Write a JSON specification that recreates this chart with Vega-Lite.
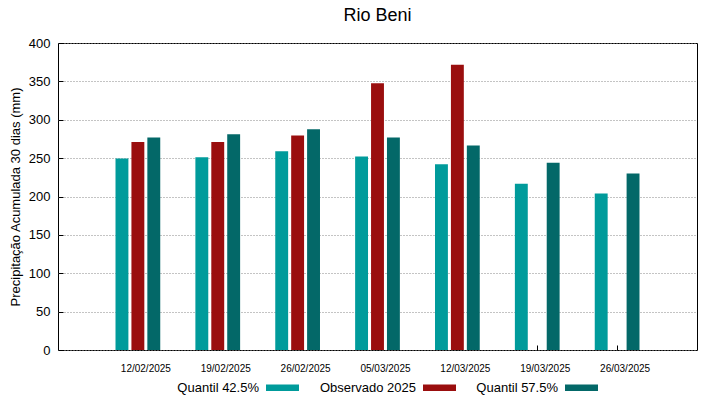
{
  "$schema": "https://vega.github.io/schema/vega-lite/v6.json",
  "autosize": {"type": "none"},
  "padding": {"left": 58, "top": 43, "right": 22, "bottom": 49},
  "width": 639,
  "height": 307,
  "title": {"text": "Rio Beni", "fontSize": 18, "font": "Liberation Sans", "fontWeight": "normal", "color": "#000", "offset": 12, "anchor": "middle"},
  "data": {"values": [
    {"date": "12/02/2025", "serie": "Quantil 42.5%", "valor": 249.5},
    {"date": "12/02/2025", "serie": "Observado 2025", "valor": 271},
    {"date": "12/02/2025", "serie": "Quantil 57.5%", "valor": 277},
    {"date": "19/02/2025", "serie": "Quantil 42.5%", "valor": 251},
    {"date": "19/02/2025", "serie": "Observado 2025", "valor": 271},
    {"date": "19/02/2025", "serie": "Quantil 57.5%", "valor": 281},
    {"date": "26/02/2025", "serie": "Quantil 42.5%", "valor": 259},
    {"date": "26/02/2025", "serie": "Observado 2025", "valor": 279.5},
    {"date": "26/02/2025", "serie": "Quantil 57.5%", "valor": 287.5},
    {"date": "05/03/2025", "serie": "Quantil 42.5%", "valor": 252},
    {"date": "05/03/2025", "serie": "Observado 2025", "valor": 347.5},
    {"date": "05/03/2025", "serie": "Quantil 57.5%", "valor": 277},
    {"date": "12/03/2025", "serie": "Quantil 42.5%", "valor": 242},
    {"date": "12/03/2025", "serie": "Observado 2025", "valor": 371.5},
    {"date": "12/03/2025", "serie": "Quantil 57.5%", "valor": 266.5},
    {"date": "19/03/2025", "serie": "Quantil 42.5%", "valor": 216.5},
    {"date": "19/03/2025", "serie": "Quantil 57.5%", "valor": 244},
    {"date": "26/03/2025", "serie": "Quantil 42.5%", "valor": 204},
    {"date": "26/03/2025", "serie": "Quantil 57.5%", "valor": 230}
  ]},
  "mark": {"type": "bar"},
  "encoding": {
    "x": {
      "field": "date", "type": "nominal",
      "sort": ["12/02/2025", "19/02/2025", "26/02/2025", "05/03/2025", "12/03/2025", "19/03/2025", "26/03/2025"],
      "scale": {"paddingInner": 0.4, "paddingOuter": 0.7},
      "axis": {"title": null, "labelAngle": 0, "labelFontSize": 10, "labelFont": "Liberation Sans", "labelColor": "#000", "grid": false, "domain": false, "tickSize": -5, "tickColor": "#000", "labelPadding": 18, "labelOffset": 8}
    },
    "y": {
      "field": "valor", "type": "quantitative",
      "scale": {"domain": [0, 400], "nice": false},
      "axis": {"title": "Precipitação Acumulada 30 dias (mm)", "titleFontSize": 13, "titleFont": "Liberation Sans", "titleFontWeight": "normal", "titleColor": "#000",
        "values": [0, 50, 100, 150, 200, 250, 300, 350, 400],
        "labelFontSize": 13, "labelFont": "Liberation Sans", "labelColor": "#000", "labelPadding": 13,
        "grid": true, "gridDash": [1, 2], "gridColor": "#888888", "domain": false, "tickSize": -5, "tickColor": "#000", "titlePadding": 6}
    },
    "xOffset": {"field": "serie", "type": "nominal", "scale": {"domain": ["Quantil 42.5%", "Observado 2025", "Quantil 57.5%"], "paddingInner": 0.19, "paddingOuter": 0.1}},
    "color": {
      "field": "serie", "type": "nominal",
      "scale": {"domain": ["Quantil 42.5%", "Observado 2025", "Quantil 57.5%"], "range": ["#009b9b", "#9a0e0e", "#036868"]},
      "legend": {"title": null, "orient": "none", "direction": "horizontal", "legendX": 208, "legendY": 328,
        "symbolType": "M-1,-0.2H1V0.2H-1Z", "symbolSize": 1089, "symbolStrokeWidth": 0, "symbolOpacity": 1,
        "labelAlign": "right", "labelOffset": -40, "labelFontSize": 13, "labelFont": "Liberation Sans", "labelColor": "#000", "columnPadding": 20, "labelLimit": 200}
    }
  },
  "config": {"view": {"stroke": "#000", "strokeWidth": 1}}
}
